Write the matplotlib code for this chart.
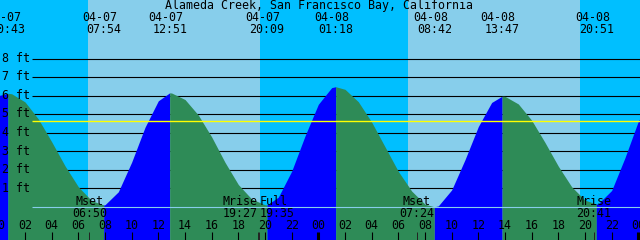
import matplotlib
matplotlib.use("Agg")
import matplotlib.pyplot as plt
import numpy as np

# Tide height (ft) at each hour, hour 0 = 04-07 00:00
hours = np.arange(0, 50)
tide_ft = [6.00, 6.10, 5.66, 4.74, 3.51, 2.21, 1.08, 0.33, 0.11, 0.81,
           2.41, 4.29, 5.72, 6.14, 5.79, 4.95, 3.77, 2.40, 1.20, 0.42,
           0.11, 0.52, 1.92, 3.82, 5.53, 6.43, 6.34, 5.67, 4.57, 3.24,
           1.91, 0.85, 0.14, 0.05, 0.91, 2.54, 4.33, 5.63, 5.96, 5.55,
           4.67, 3.47, 2.19, 1.08, 0.36, 0.17, 0.88, 2.65, 4.62, 5.90]

# High / low tide events
event_dates = ["04-07", "04-07", "04-07", "04-07", "04-08", "04-08", "04-08", "04-08"]
event_times = ["00:43", "07:54", "12:51", "20:09", "01:18", "08:42", "13:47", "20:51"]
event_day = [0, 0, 0, 0, 1, 1, 1, 1]
event_ft = [6.12, 0.10, 6.15, 0.10, 6.48, 0.00, 5.97, 0.15]

# Moon events
moon_names = ["Mset", "Mrise", "Full", "Mset", "Mrise"]
moon_times = ["06:50", "19:27", "19:35", "07:24", "20:41"]
moon_day = [0, 0, 0, 1, 1]
moon_ha = ["center", "right", "left", "center", "center"]

# Daylight
sunrise = ["06:42", "06:42"]
sunset = ["19:37", "19:37"]
sun_day = [0, 1]

ft_levels = [1, 2, 3, 4, 5, 6, 7, 8]
mark_ft = 4.65
title = "Alameda Creek, San Francisco Bay, California"

night = "#00BFFF"
day = "#87CEEB"
ebb = "#2E8B57"
flood = "#0000FF"


def to_hours(t, d):
    hh, mm = t.split(":")
    return 24 * d + int(hh) + int(mm) / 60


# pixel -> data helpers (chart is 640x240 px)
X0, PX_PER_H = 0.125, 13.333
Y0, PX_PER_FT = 11.16, 18.53
def px(x):
    return X0 + x / PX_PER_H
def py(y):
    return Y0 - y / PX_PER_FT


plt.rcParams["font.family"] = "DejaVu Sans Mono"
fs = 8.4

fig = plt.figure(figsize=(6.4, 2.4), dpi=100)
ax = fig.add_axes([0, 0, 1, 1])
ax.set_xlim(px(0), px(640))
ax.set_ylim(py(240), py(0))
ax.set_facecolor(night)
for s in ax.spines.values():
    s.set_visible(False)
ax.set_xticks([])
ax.set_yticks([])

for r, s, d in zip(sunrise, sunset, sun_day):
    ax.axvspan(to_hours(r, d), to_hours(s, d), color=day, lw=0, zorder=0)

# level lines (under the tide)
ax.hlines(ft_levels, px(32), px(640), color="black", lw=0.8, zorder=1)

# tide curve: hourly readings plus the extremes
ev_h = np.array([to_hours(t, d) for t, d in zip(event_times, event_day)])
t_all = np.concatenate([hours, ev_h])
h_all = np.concatenate([tide_ft, event_ft])
order = np.argsort(t_all)
t_all, h_all = t_all[order], h_all[order]

rising = np.diff(h_all) > 0
bottom = py(240)
start = 0
for i in range(1, len(rising) + 1):
    if i == len(rising) or rising[i] != rising[start]:
        seg = slice(start, i + 1)
        ax.fill_between(t_all[seg], h_all[seg], bottom,
                        color=flood if rising[start] else ebb,
                        lw=0, antialiased=False, zorder=2)
        start = i

ax.hlines(mark_ft, px(32), px(640), color="yellow", lw=1.0, zorder=3)
ax.hlines(0, px(32), px(640), color=day, lw=0.8, zorder=3)

# labels
for lv in ft_levels:
    ax.text(px(2), lv - 0.18, f"{lv} ft", fontsize=fs, va="baseline", ha="left", zorder=5)

ax.text(px(319.5), py(9.5), title, fontsize=fs, ha="center", va="baseline", zorder=5)
for h, dt, tm in zip(ev_h, event_dates, event_times):
    ax.text(h - 0.3, py(21), dt, fontsize=fs, ha="center", va="baseline", zorder=5)
    ax.text(h, py(33.3), tm, fontsize=fs, ha="center", va="baseline", zorder=5)

for name, tm, d, ha in zip(moon_names, moon_times, moon_day, moon_ha):
    h = to_hours(tm, d)
    ax.text(h, py(205), name, fontsize=fs, ha=ha, va="baseline", zorder=5)
    ax.text(h, py(217.3), tm, fontsize=fs, ha=ha, va="baseline", zorder=5)
    ax.vlines(h, py(240), py(232), color="#222222", lw=0.7, zorder=4)

for h in range(0, 49, 2):
    ax.text(h, py(229), f"{h % 24:02d}", fontsize=fs, ha="center", va="baseline", zorder=5)
    ax.vlines(h, py(240), py(232), color="black",
              lw=2.2 if h % 24 == 0 else 0.8, zorder=4)

fig.savefig("out.png", dpi=100)
